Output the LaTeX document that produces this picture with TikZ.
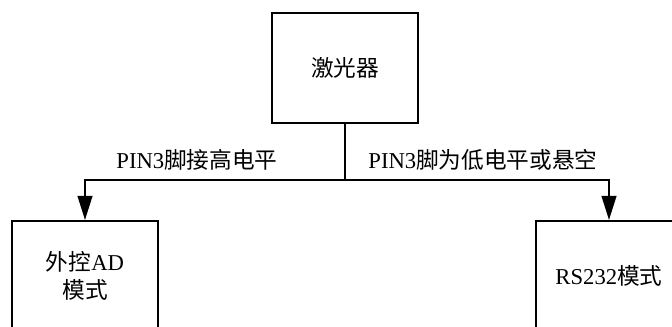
\documentclass[tikz,border=0pt]{standalone}
\usepackage{fontspec}
\setmainfont{Liberation Serif}
\newfontfamily\cjk{Noto Sans CJK SC}
\usetikzlibrary{arrows.meta}

\tikzset{
  modebox/.style={draw,line width=1.5pt,minimum width=109.5pt,minimum height=82.5pt,inner sep=0pt,align=center,font=\fontsize{17}{21}\selectfont},
  branch/.style={line width=1.5pt,-{Triangle[length=18pt,width=11pt]}},
  pinlabel/.style={inner sep=0.75pt,font=\fontsize{17}{21}\selectfont}
}

\begin{document}
\begin{tikzpicture}[x=0.75pt,y=0.75pt,yscale=-1,xscale=1]
\useasboundingbox (0,0) rectangle (672,327);
\clip (0,0) rectangle (672,327);

% Boxes
\node [modebox] (laser) at (345,68) {{\cjk 激光器}};
\node [modebox] (ad) at (85,276) {{\cjk 外控}AD\\{\cjk 模式}};
\node [modebox] (rs) at (609,276) {RS232{\cjk 模式}};

% Branch point
\coordinate (split) at (345,180);

% Connectors
\draw [line width=1.5pt] (laser.south) -- (split);
\draw [branch] (split) -| (ad.north);
\draw [branch] (split) -| (rs.north);

% Text Node
\node [pinlabel] (high) at (197,160) {PIN3{\cjk 脚接高电平}};
% Text Node
\node [pinlabel] (low) at (483,160) {PIN3{\cjk 脚为低电平或悬空}};

\end{tikzpicture}
\end{document}
